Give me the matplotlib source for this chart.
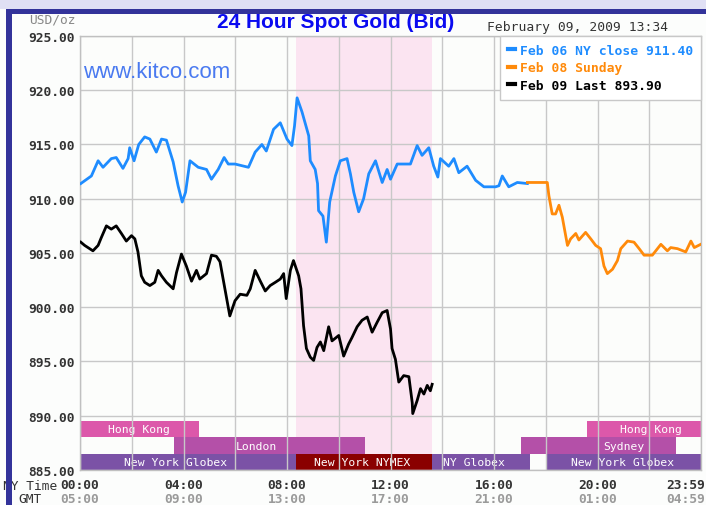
import matplotlib
matplotlib.use("Agg")
import matplotlib.pyplot as plt
from matplotlib.patches import Rectangle
from matplotlib.lines import Line2D
from matplotlib.transforms import offset_copy

# ---------------- data ----------------
feb06_hours = [0.03, 0.44, 0.70, 0.89, 1.21, 1.40, 1.66, 1.86, 1.92, 2.09, 2.27, 2.50, 2.70, 2.95,
               3.15, 3.34, 3.60, 3.79, 3.95, 4.08, 4.25, 4.57, 4.89, 5.08, 5.34, 5.57, 5.73, 5.99,
               6.51, 6.77, 7.03, 7.20, 7.48, 7.74, 8.00, 8.19, 8.29, 8.39, 8.58, 8.71, 8.84, 8.90,
               9.09, 9.18, 9.22, 9.39, 9.52, 9.65, 9.87, 10.06, 10.32, 10.45, 10.58, 10.77, 10.96,
               11.16, 11.42, 11.68, 11.87, 12.00, 12.26, 12.77, 13.03, 13.22, 13.48, 13.67, 13.83,
               13.93, 14.25, 14.45, 14.64, 14.96, 15.29, 15.61, 16.06, 16.19, 16.32, 16.57, 16.90, 17.29]
feb06_price = [911.4, 912.1, 913.5, 912.9, 913.7, 913.8, 912.8, 913.7, 914.7, 913.5, 915.0, 915.7, 915.5, 914.3,
               915.5, 915.4, 913.4, 911.2, 909.7, 910.6, 913.5, 912.9, 912.7, 911.8, 912.7, 913.8, 913.2, 913.2,
               912.9, 914.3, 915.0, 914.4, 916.4, 917.0, 915.5, 914.9, 916.7, 919.3, 918.0, 916.9, 915.8, 913.5,
               912.7, 911.4, 908.9, 908.4, 906.0, 909.7, 912.1, 913.5, 913.7, 912.3, 910.6, 908.8, 910.0,
               912.3, 913.5, 911.5, 912.7, 911.8, 913.2, 913.2, 914.9, 914.0, 914.7, 913.0, 912.0,
               913.7, 913.0, 913.7, 912.4, 913.0, 911.7, 911.1, 911.1, 911.2, 912.1, 911.1, 911.5, 911.4]

feb08_hours = [17.29, 18.06, 18.12, 18.25, 18.38, 18.51, 18.64, 18.77, 18.84, 18.96, 19.16, 19.28, 19.54,
               19.74, 19.93, 20.12, 20.25, 20.38, 20.58, 20.77, 20.90, 21.16, 21.41, 21.61, 21.80, 22.12,
               22.45, 22.70, 22.83, 23.09, 23.41, 23.61, 23.74, 23.99]
feb08_price = [911.5, 911.5, 910.3, 908.6, 908.6, 909.4, 908.3, 906.6, 905.7, 906.3, 906.8, 906.2, 906.9,
               906.3, 905.7, 905.4, 903.8, 903.1, 903.5, 904.3, 905.4, 906.1, 906.0, 905.4, 904.8, 904.8,
               905.8, 905.2, 905.5, 905.4, 905.1, 906.1, 905.5, 905.8]

feb09_hours = [0.03, 0.18, 0.50, 0.70, 0.82, 1.02, 1.21, 1.40, 1.60, 1.79, 1.99, 2.12, 2.24, 2.37, 2.50,
               2.70, 2.89, 3.02, 3.15, 3.34, 3.60, 3.73, 3.92, 4.11, 4.31, 4.50, 4.63, 4.89, 5.08, 5.27,
               5.41, 5.60, 5.79, 5.99, 6.19, 6.45, 6.58, 6.77, 6.97, 7.16, 7.35, 7.55, 7.74, 7.87, 7.97,
               8.13, 8.25, 8.45, 8.54, 8.64, 8.75, 8.90, 9.03, 9.16, 9.29, 9.42, 9.61, 9.74, 10.00, 10.19,
               10.38, 10.51, 10.71, 10.90, 11.10, 11.29, 11.48, 11.68, 11.87, 12.00, 12.06, 12.19, 12.32,
               12.51, 12.71, 12.84, 12.86, 13.03, 13.16, 13.29, 13.42, 13.54, 13.61]
feb09_price = [906.0, 905.7, 905.2, 905.7, 906.4, 907.5, 907.2, 907.5, 906.8, 906.1, 906.6, 906.3, 905.1, 902.9, 902.3,
               902.0, 902.3, 903.4, 902.9, 902.3, 901.7, 903.2, 904.9, 903.8, 902.4, 903.4, 902.6, 903.1, 904.8, 904.7,
               904.2, 901.7, 899.2, 900.6, 901.2, 901.1, 901.7, 903.4, 902.4, 901.5, 902.0, 902.3, 902.6, 903.1, 900.8,
               903.4, 904.3, 902.9, 901.7, 898.3, 896.2, 895.4, 895.1, 896.3, 896.8, 896.0, 898.2, 896.9, 897.4, 895.5,
               896.6, 897.2, 898.2, 898.8, 899.1, 897.7, 898.6, 899.5, 899.7, 898.0, 896.2, 895.2, 893.1,
               893.7, 893.6, 891.2, 890.2, 891.4, 892.5, 892.0, 892.8, 892.3, 892.9]

series_labels = ["Feb 06 NY close 911.40", "Feb 08 Sunday", "Feb 09 Last 893.90"]
series_colors = ["#1e8cff", "#ff8a0a", "#000000"]

y_ticks = [885, 890, 895, 900, 905, 910, 915, 920, 925]
x_ticks = [0, 4, 8, 12, 16, 20, 23.983]
ny_labels = ["00:00", "04:00", "08:00", "12:00", "16:00", "20:00", "23:59"]
gmt_labels = ["05:00", "09:00", "13:00", "17:00", "21:00", "01:00", "04:59"]

nymex_hours = (8.35, 13.6)

# sessions: name, start, end, row (0 bottom), label centre
session_names = ["Hong Kong", "Hong Kong", "London", "Sydney", "New York Globex",
                 "New York NYMEX", "NY Globex", "New York Globex"]
session_start = [0.0, 19.6, 3.65, 17.05, 0.0, 8.35, 13.6, 18.06]
session_end = [4.58, 24.0, 11.03, 23.03, 8.35, 13.6, 17.41, 24.0]
session_row = [2, 2, 1, 1, 0, 0, 0, 0]
session_label_x = [2.28, 22.06, 6.81, 21.01, 3.68, 10.91, 15.21, 20.98]
row_bounds = [(885.0, 886.5), (886.5, 888.0), (888.0, 889.5)]
row_colors = {2: "#dc58aa", 1: "#b450a8", 0: "#7b52a6"}
nymex_color = "#8a0000"

# ---------------- figure ----------------
W, H = 706, 506
fig = plt.figure(figsize=(W / 100, H / 100), dpi=100, facecolor="#fcfdfc")


def fx(px):
    return px / W


def fy(py):
    return 1 - py / H


ax = fig.add_axes([fx(80), fy(471), fx(701) - fx(80), fy(37) - fy(471)])
ax.set_facecolor("#fcfdfb")
ax.set_xlim(0, 24)
ax.set_ylim(885, 925)

# NYMEX shading
ax.axvspan(nymex_hours[0], nymex_hours[1], color="#fbe4f1", zorder=0.5, lw=0)

# grid
for y in y_ticks:
    ax.axhline(y, color="#c8c8c8", lw=1.0, zorder=2.5)
for x in range(0, 25, 2):
    ax.axvline(x, color="#c8c8c8", lw=1.0, zorder=2.5)

# sessions
mono = "DejaVu Sans Mono"
for name, s, e, r, lx in zip(session_names, session_start, session_end, session_row, session_label_x):
    y0, y1 = row_bounds[r]
    c = nymex_color if "NYMEX" in name else row_colors[r]
    ax.add_patch(Rectangle((s, y0), e - s, y1 - y0, facecolor=c, edgecolor="none", zorder=1))
    ax.text(lx, (y0 + y1) / 2, name, color="white", fontsize=8.2, family=mono,
            ha="center", va="center", zorder=2)

# price lines
ax.plot(feb06_hours, feb06_price, color=series_colors[0], lw=2.0, zorder=3)
ax.plot(feb08_hours, feb08_price, color=series_colors[1], lw=2.0, zorder=3)
ax.plot(feb09_hours, feb09_price, color=series_colors[2], lw=2.0, zorder=3)

# axes styling
for sp in ax.spines.values():
    sp.set_color("#c0c0c0")
    sp.set_linewidth(1.0)
ax.set_yticks(y_ticks)
ax.set_yticklabels([f"{v:.2f}" for v in y_ticks], family=mono, fontweight="bold",
                   fontsize=9.3, color="#333333")
ax.tick_params(axis="y", length=0, pad=4)
ax.set_xticks(x_ticks)
ax.set_xticklabels([])
ax.tick_params(axis="x", length=0)

trans = ax.get_xaxis_transform()
last = len(x_ticks) - 1
for i, (x, ny, gmt) in enumerate(zip(x_ticks, ny_labels, gmt_labels)):
    if i == last:
        t = offset_copy(trans, fig=fig, x=4, y=0, units="dots")
        ha = "right"
    else:
        t = trans
        ha = "center"
    ax.text(x, (471 - 486) / 434, ny, transform=t, ha=ha, va="center",
            family=mono, fontweight="bold", fontsize=9.3, color="#333333", clip_on=False)
    ax.text(x, (471 - 500) / 434, gmt, transform=t, ha=ha, va="center",
            family=mono, fontweight="bold", fontsize=9.3, color="#9a9a9a", clip_on=False)

fig.text(fx(57), fy(487), "NY Time", ha="right", va="center", family=mono,
         fontsize=9.3, color="#333333")
fig.text(fx(30), fy(500), "GMT", ha="center", va="center", family=mono,
         fontsize=9.3, color="#333333")

# legend
handles = [Line2D([], [], color=c, lw=3) for c in series_colors]
leg = ax.legend(handles, series_labels, loc="upper right", bbox_to_anchor=(1.0, 1.0),
                prop={"family": mono, "weight": "bold", "size": 9.4},
                labelcolor=series_colors, handlelength=0.55, handletextpad=0.35,
                labelspacing=0.35, borderpad=0.6, borderaxespad=0, fancybox=False,
                framealpha=1, edgecolor="#c8c8c8", facecolor="white")
leg.set_zorder(5)

# texts
fig.text(fx(336), fy(23), "24 Hour Spot Gold (Bid)", ha="center", va="center",
         family="Liberation Sans", fontweight="bold", fontsize=15, color="#0a0af0")
fig.text(fx(83), fy(72), "www.kitco.com", ha="left", va="center",
         family="Liberation Sans", fontsize=16, color="#4a7af0")
fig.text(fx(578), fy(28), "February 09, 2009 13:34", ha="center", va="center",
         family=mono, fontsize=9.4, color="#333333")
fig.text(fx(52), fy(20), "USD/oz", ha="center", va="center", family=mono,
         fontsize=9.3, color="#888888", zorder=1)

# frame decorations
fig.patches.append(Rectangle((0, fy(10)), 1, 10 / H, transform=fig.transFigure,
                             facecolor="#e0e0f4", edgecolor="none", zorder=5))
fig.patches.append(Rectangle((fx(6), fy(15)), 1, 5 / H, transform=fig.transFigure,
                             facecolor="#33339a", edgecolor="none", zorder=6))
fig.patches.append(Rectangle((fx(6), 0), 6 / W, fy(10), transform=fig.transFigure,
                             facecolor="#33339a", edgecolor="none", zorder=6))

fig.savefig("out.png", dpi=100, facecolor=fig.get_facecolor())
